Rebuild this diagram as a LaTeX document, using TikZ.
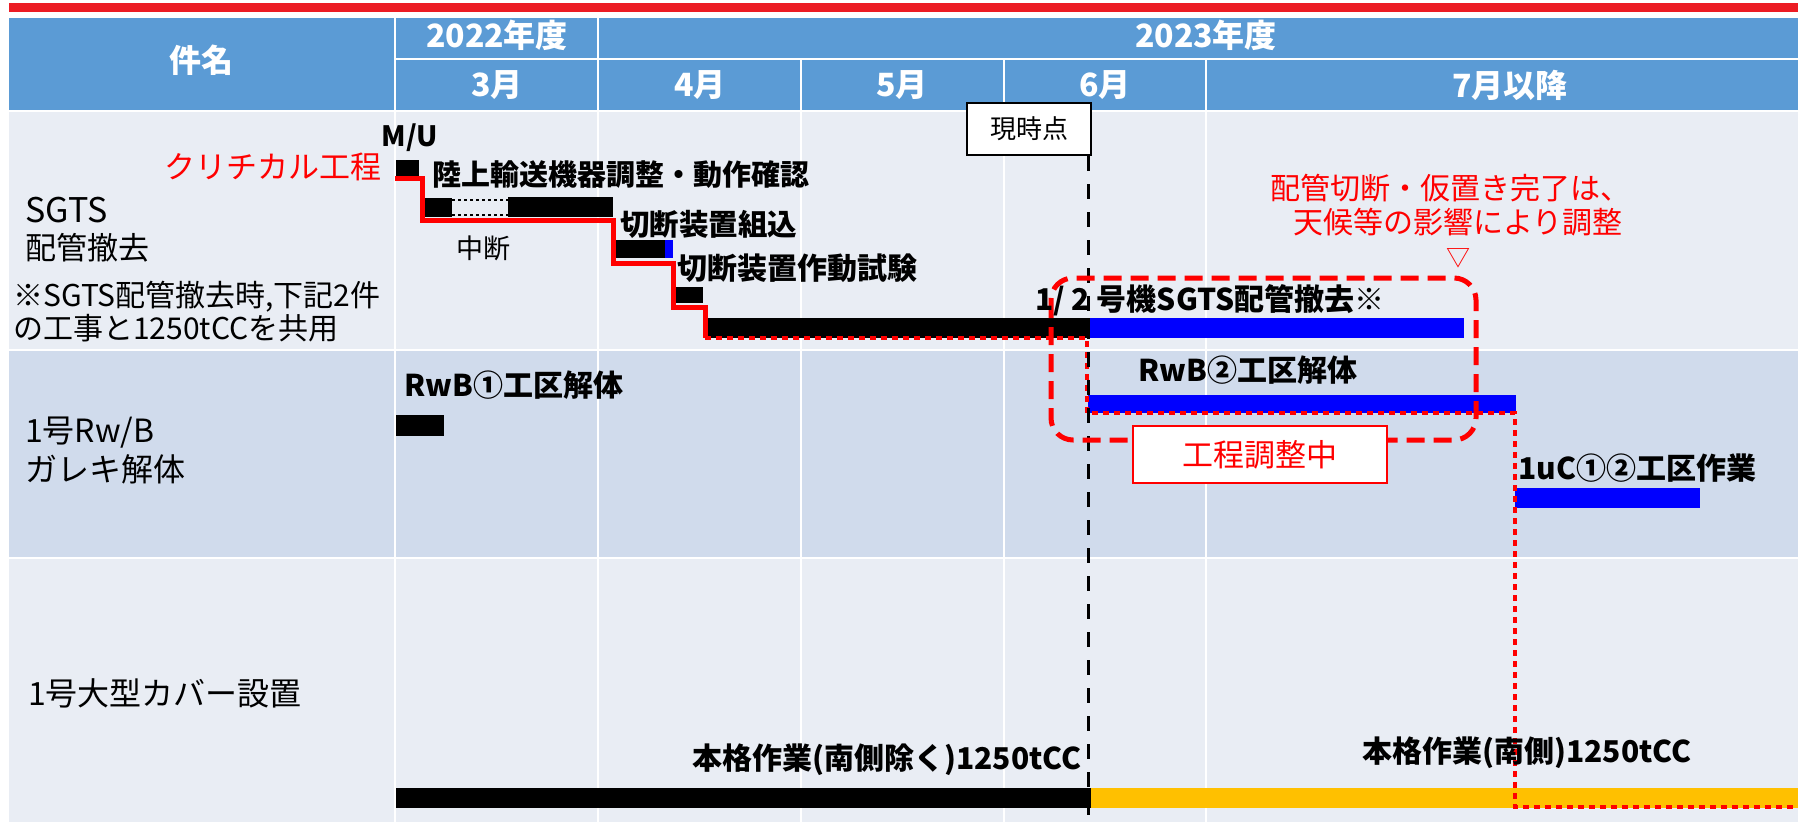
\documentclass[tikz,border=0pt]{standalone}
\usepackage{fontspec}
\setmainfont{Noto Sans CJK JP}
\newcommand\myfs[1]{\fontsize{#1}{#1}\selectfont}
\definecolor{hdr}{HTML}{5B9BD5}
\definecolor{rowA}{HTML}{E9EDF4}
\definecolor{rowB}{HTML}{D0DBEC}
\definecolor{bblue}{HTML}{0000FF}
\definecolor{yel}{HTML}{FFC000}
\definecolor{topred}{HTML}{EC1C24}
\definecolor{rred}{HTML}{FF0000}
\tikzset{
  hdrtxt/.style={text=white, font=\myfs{32}\bfseries, inner sep=0pt},
  lbl/.style={text=black, font=\myfs{30}\bfseries, inner sep=0pt},
  lefttxt/.style={text=black, font=\myfs{30}, inner sep=0pt, anchor=west},
  redtxt/.style={text=rred, font=\myfs{30}, inner sep=0pt},
  gridline/.style={white, line width=2.5pt},
  critical/.style={rred, line width=5pt},
  critdot/.style={rred, line width=4.5pt, dash pattern=on 6pt off 5pt},
  nowline/.style={black, line width=3pt, dash pattern=on 15pt off 13pt},
  adjbox/.style={rred, line width=5pt, dash pattern=on 18pt off 9pt, rounded corners=22pt},
}
\begin{document}
\begin{tikzpicture}[x=1pt, y=-1pt]
\useasboundingbox (0,0) rectangle (1798,822);
\fill[white] (0,0) rectangle (1798,822);
% top red bar
\fill[topred] (9,3) rectangle (1798,12);
% header
\fill[hdr] (9,18) rectangle (1798,110);
% rows
\fill[rowA] (9,110) rectangle (1798,350);
\fill[rowB] (9,350) rectangle (1798,558);
\fill[rowA] (9,558) rectangle (1798,822);
% grid lines
\draw[gridline] (396,59) -- (1798,59);
\draw[gridline] (9,111) -- (1798,111);
\draw[gridline] (9,350) -- (1798,350);
\draw[gridline] (9,558) -- (1798,558);
\draw[gridline] (395,18) -- (395,822);
\draw[gridline] (598,18) -- (598,822);
\draw[gridline] (801,59) -- (801,822);
\draw[gridline] (1004,59) -- (1004,822);
\draw[gridline] (1206,59) -- (1206,822);
% header texts
\node[hdrtxt] (h0) at (201,60) {件名};
\node[hdrtxt] (y22) at (497,35) {2022年度};
\node[hdrtxt] (y23) at (1206,35) {2023年度};
\node[hdrtxt] (m3) at (497,85) {3月};
\node[hdrtxt] (m4) at (700,85) {4月};
\node[hdrtxt] (m5) at (902,85) {5月};
\node[hdrtxt] (m6) at (1105,85) {6月};
\node[hdrtxt] (m7) at (1510,85) {7月以降};
% left column texts
\node[lefttxt, font=\myfs{34}] (l1) at (25,210) {SGTS};
\node[lefttxt, font=\myfs{31}] (l2) at (25,248) {配管撤去};
\node[lefttxt] (l3) at (13,297) {※SGTS配管撤去時,下記2件};
\node[lefttxt] (l4) at (13,328) {の工事と1250tCCを共用};
\node[lefttxt, font=\myfs{32}] (l5) at (25,433) {1号Rw/B};
\node[lefttxt, font=\myfs{32}] (l6) at (25,469) {ガレキ解体};
\node[lefttxt, font=\myfs{32}] (l7) at (28,693) {1号大型カバー設置};
% bars
\fill[black] (396,160) rectangle (419,176);
\fill[black] (424,198) rectangle (452,217);
\draw[black, line width=2pt, dash pattern=on 3pt off 3pt] (452,200) -- (508,200) (452,215) -- (508,215);
\fill[black] (508,197) rectangle (613,217);
\fill[black] (616,240) rectangle (667,258);
\fill[bblue] (665,240) rectangle (673,258);
\fill[black] (676,287) rectangle (703,303);
\fill[black] (707,318) rectangle (1090,338);
\fill[bblue] (1090,318) rectangle (1464,338);
\fill[black] (396,415) rectangle (444,436);
\fill[bblue] (1088,395) rectangle (1516,413);
\fill[bblue] (1515,488) rectangle (1700,508);
\fill[black] (396,788) rectangle (1091,808);
\fill[yel] (1091,788) rectangle (1798,808);
% critical path
\coordinate (c0) at (395,178);
\coordinate (c1) at (422,220);
\coordinate (c2) at (613,263);
\coordinate (c3) at (673,307);
\coordinate (c4) at (705,338);
\coordinate (c5) at (1087,413);
\coordinate (c6) at (1515,807);
\coordinate (c7) at (1798,807);
\draw[critical] (c0) -| (c1) -| (c2) -| (c3) -| (c4);
\draw[critdot] (c4) -| (c5) -| (c6) -- (c7);
% now marker
\node[draw=black, fill=white, line width=2pt, minimum width=124pt, minimum height=52pt, inner sep=0pt, font=\myfs{26}] (now) at (1029,129) {現時点};
\coordinate (nowend) at (1088,822);
\draw[nowline] (now.south -| nowend) -- (nowend);
% adjustment box
\draw[adjbox] (1051,278) rectangle (1476,440);
\node[draw=rred, fill=white, line width=2pt, minimum width=254pt, minimum height=57pt, inner sep=0pt, text=rred, font=\myfs{31}] (adj) at (1260,454.5) {工程調整中};
% labels
\node[lbl, font=\myfs{28}\bfseries] (mu) at (410,138) {M/U};
\node[redtxt, anchor=east, font=\myfs{31}] (crit) at (382,167) {クリチカル工程};
\node[lbl, anchor=west, font=\myfs{29}\bfseries] (t1) at (432,175) {陸上輸送機器調整・動作確認};
\node[inner sep=0pt, font=\myfs{27}] (t2) at (483,248) {中断};
\node[lbl, anchor=west, font=\myfs{29.5}\bfseries] (t3) at (620,224) {切断装置組込};
\node[lbl, anchor=west] (t4) at (677,268) {切断装置作動試験};
\node[lbl] (t5) at (1210,300) {1/ 2 号機SGTS配管撤去※};
\node[redtxt] (n1) at (1450,188) {配管切断・仮置き完了は、};
\node[redtxt] (n2) at (1458,222) {天候等の影響により調整};
\node[redtxt, font=\myfs{24}] (n3) at (1458,258) {▽};
\node[lbl] (t6) at (1248,370) {RwB②工区解体};
\node[lbl, anchor=west] (t7) at (1518,468) {1uC①②工区作業};
\node[lbl, anchor=west] (t8) at (404,385) {RwB①工区解体};
\node[lbl] (t9) at (887,760) {本格作業(南側除く)1250tCC};
\node[lbl] (t10) at (1527,753) {本格作業(南側)1250tCC};
\end{tikzpicture}
\end{document}
